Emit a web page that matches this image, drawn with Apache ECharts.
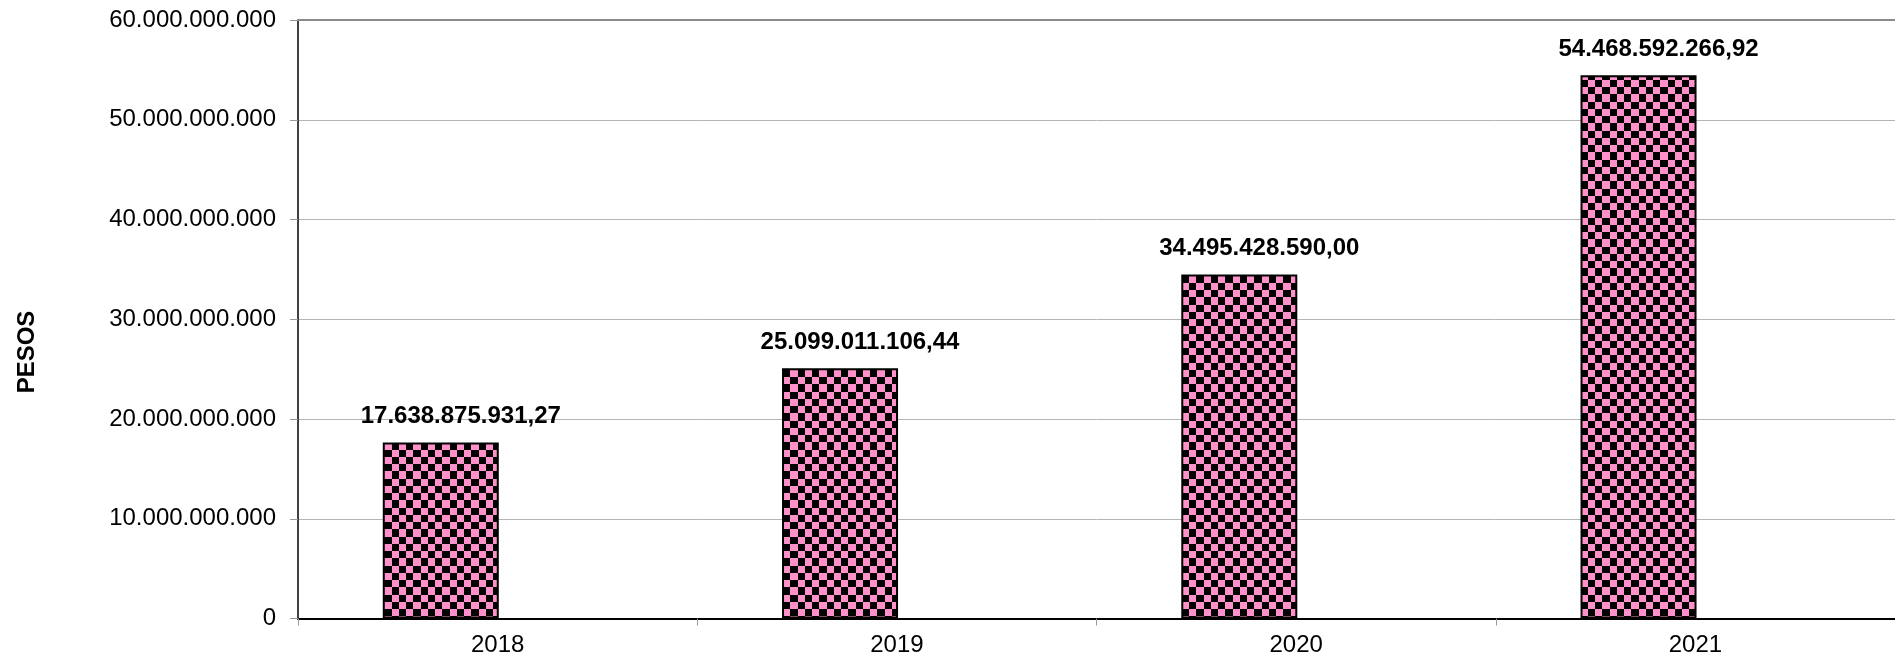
<!DOCTYPE html>
<html>
<head>
<meta charset="utf-8">
<script src="https://cdn.jsdelivr.net/npm/echarts@6/dist/echarts.min.js"></script>
<style>
html,body{margin:0;padding:0;background:#fff;}
#c{width:1895px;height:667px;}
</style>
</head>
<body>
<div id="c"></div>
<script>
var categories = ['2018', '2019', '2020', '2021'];
var values = [17638875931.27, 25099011106.44, 34495428590.00, 54468592266.92];
var yTicks = [0, 10000000000, 20000000000, 30000000000, 40000000000, 50000000000, 60000000000];
var yTitle = 'PESOS';

function fmtInt(n) {
  return String(Math.round(n)).replace(/\B(?=(\d{3})+(?!\d))/g, '.');
}
function fmtDec(n) {
  var s = n.toFixed(2).split('.');
  return s[0].replace(/\B(?=(\d{3})+(?!\d))/g, '.') + ',' + s[1];
}

var pc = document.createElement('canvas');
pc.width = 29; pc.height = 29;
var ctx = pc.getContext('2d');
ctx.fillStyle = '#000';
ctx.fillRect(0, 0, 29, 29);
ctx.fillStyle = '#FF90CA';
var edges = [0, 7, 15, 22, 29];
for (var i = 0; i < 4; i++) {
  for (var j = 0; j < 4; j++) {
    if ((i + j) % 2 === 0) {
      ctx.fillRect(edges[i], edges[j], edges[i + 1] - edges[i], edges[j + 1] - edges[j]);
    }
  }
}

var chart = echarts.init(document.getElementById('c'), null, {renderer: 'canvas'});
var font = 'Liberation Sans, Arial, sans-serif';
chart.setOption({
  animation: false,
  grid: {left: 298, top: 20, right: 0, bottom: 48.5, containLabel: false},
  xAxis: [{
    type: 'category',
    data: categories,
    axisLine: {show: true, lineStyle: {color: '#000', width: 2}},
    axisTick: {show: true, alignWithLabel: false, length: 7, lineStyle: {color: '#999'}},
    axisLabel: {color: '#000', fontSize: 24, fontFamily: font, margin: 15},
    splitLine: {show: false}
  }, {
    type: 'category',
    position: 'top',
    data: categories,
    axisLine: {show: true, lineStyle: {color: '#8a8a8a', width: 2}},
    axisTick: {show: false},
    axisLabel: {show: false}
  }],
  yAxis: {
    type: 'value',
    min: yTicks[0],
    max: yTicks[yTicks.length - 1],
    interval: yTicks[1] - yTicks[0],
    axisLine: {show: true, lineStyle: {color: '#000', width: 1.5}},
    axisTick: {show: true, length: 8, lineStyle: {color: '#999'}},
    axisLabel: {color: '#000', fontSize: 24, fontFamily: font, margin: 22,
      formatter: function (v) { return fmtInt(v); }},
    splitLine: {show: true, lineStyle: {color: '#b4b4b4', width: 1}}
  },
  series: [{
    type: 'bar',
    data: values,
    barWidth: 116,
    barGap: '-2%',
    itemStyle: {
      color: {image: pc, repeat: 'repeat'},
      borderColor: '#000',
      borderWidth: 2
    },
    label: {
      show: true,
      position: 'top',
      distance: 14,
      offset: [20, 0],
      fontSize: 24,
      fontWeight: 'bold',
      fontFamily: font,
      color: '#000',
      formatter: function (p) { return fmtDec(p.value); }
    }
  }, {
    type: 'bar',
    data: values.map(function () { return null; }),
    barWidth: 116,
    silent: true
  }],
  graphic: [{
    type: 'text',
    x: 27,
    y: 352,
    rotation: Math.PI / 2,
    style: {
      text: yTitle,
      fontSize: 24,
      fontWeight: 'bold',
      fontFamily: font,
      fill: '#000',
      align: 'center',
      verticalAlign: 'middle'
    }
  }]
});
</script>
</body>
</html>
